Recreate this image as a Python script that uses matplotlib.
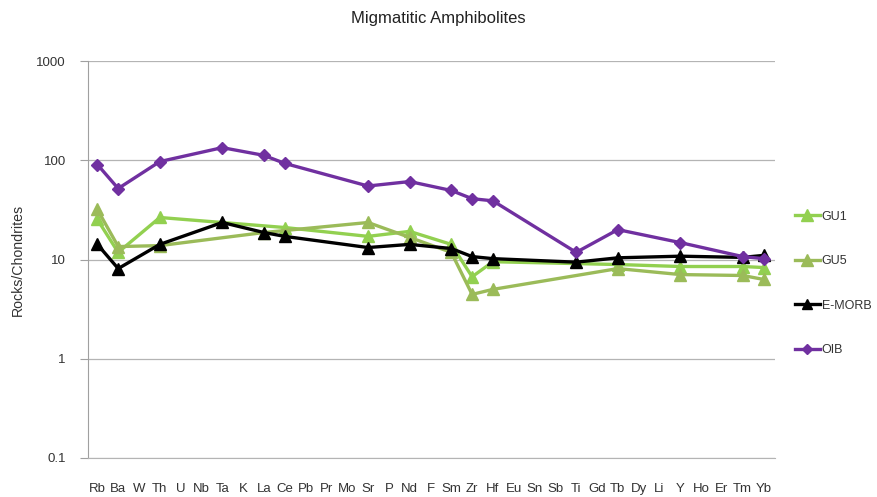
import numpy as np
import matplotlib
matplotlib.use("Agg")
import matplotlib.pyplot as plt

plt.rcParams["font.family"] = ["Liberation Sans", "DejaVu Sans"]

elements = ["Rb", "Ba", "W", "Th", "U", "Nb", "Ta", "K", "La", "Ce", "Pb", "Pr", "Mo",
            "Sr", "P", "Nd", "F", "Sm", "Zr", "Hf", "Eu", "Sn", "Sb", "Ti", "Gd", "Tb",
            "Dy", "Li", "Y", "Ho", "Er", "Tm", "Yb"]

N = None
gu1 = [25.3, 11.8, N, 26.5, N, N, N, N, N, 21.0, N, N, N,
       17.1, N, 19.2, N, 14.2, 6.7, 9.5, N, N, N, N, N, 8.9,
       N, N, 8.5, N, N, 8.5, 8.3]
gu5 = [31.9, 13.5, N, 13.8, N, N, N, N, 18.7, N, N, N, N,
       23.6, N, 16.7, N, 11.8, 4.45, 5.0, N, N, N, N, N, 8.1,
       N, N, 7.05, N, N, 6.9, 6.3]
emorb = [14.2, 8.1, N, 14.2, N, N, 23.6, N, 18.7, 17.1, N, N, N,
         13.2, N, 14.2, N, 12.9, 10.7, 10.2, N, N, N, 9.4, N, 10.4,
         N, N, 10.8, N, N, 10.5, 11.0]
oib = [90.6, 51.9, N, 97.0, N, N, 134.0, N, 112.0, 93.0, N, N, N,
       55.0, N, 61.0, N, 49.6, 41.0, 39.0, N, N, N, 11.8, N, 20.0,
       N, N, 14.8, N, N, 10.7, 10.2]

series = [
    ("GU1", gu1, "#92D050", "^", 9),
    ("GU5", gu5, "#9BBB59", "^", 9),
    ("E-MORB", emorb, "black", "^", 8),
    ("OIB", oib, "#7030A0", "D", 6),
]

fig = plt.figure(figsize=(8.77, 4.97), dpi=100)
ax = fig.add_axes([88 / 877, 1 - 458 / 497, (775 - 88) / 877, (458 - 61) / 497])

x = np.arange(len(elements))
for name, vals, col, mk, ms in series:
    v = np.array([np.nan if a is None else a for a in vals], dtype=float)
    ok = ~np.isnan(v)
    # 缺失值处直接连线
    ax.plot(x[ok], v[ok], color=col, marker=mk, markersize=ms, linewidth=2.4,
            markeredgecolor=col, label=name, clip_on=False)

ax.set_yscale("log")
ax.set_ylim(0.1, 1000)
ax.set_xlim(-0.45, 32.55)
ax.set_yticks([0.1, 1, 10, 100, 1000])
ax.set_yticklabels(["0.1", "1", "10", "100", "1000"])
ax.yaxis.set_minor_locator(matplotlib.ticker.NullLocator())
ax.set_xticks(x)
ax.set_xticklabels(elements)
ax.tick_params(axis="x", length=0, pad=18, labelsize=9.5, labelcolor="#333333")
ax.tick_params(axis="y", length=6, color="#a0a0a0", pad=10, labelsize=9.5, labelcolor="#333333")
ax.grid(axis="y", color="#b4b4b4", linewidth=0.9)
ax.set_axisbelow(True)
for s in ["top", "right"]:
    ax.spines[s].set_visible(False)
ax.spines["left"].set_color("#a0a0a0")
ax.spines["bottom"].set_color("#b4b4b4")

fig.text(438 / 877, 1 - 19 / 497, "Migmatitic Amphibolites", ha="center", va="center",
         fontsize=12, color="#222222")
fig.text(18 / 877, 1 - 260 / 497, "Rocks/Chondrites", rotation=90, ha="center",
         va="center", fontsize=10.2, color="#333333")

leg = ax.legend(loc="center left", bbox_to_anchor=(1.029, 0.44), frameon=False,
                fontsize=9, labelspacing=2.6, handlelength=2.0, handletextpad=0.15,
                borderaxespad=0, borderpad=0, markerscale=0.9, labelcolor="#333333")

fig.savefig("out.png", dpi=100, facecolor="white")
